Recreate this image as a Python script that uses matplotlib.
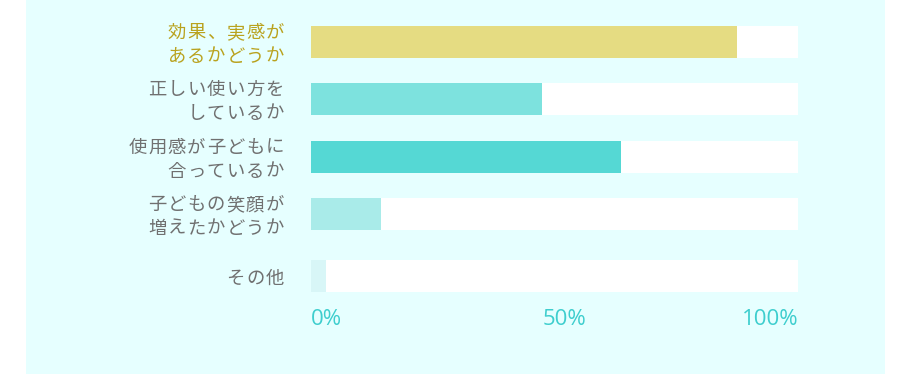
import matplotlib
matplotlib.use("Agg")
import matplotlib.pyplot as plt
from matplotlib.patches import Rectangle
import matplotlib.transforms as mtransforms

plt.rcParams['font.family'] = ['Noto Sans CJK JP', 'DejaVu Sans']

categories = ["効果、実感が\nあるかどうか", "正しい使い方を\nしているか", "使用感が子どもに\n合っているか",
              "子どもの笑顔が\n増えたかどうか", "その他"]
values = [87.5, 47.4, 63.7, 14.4, 3.1]
bar_colors = ["#E5DC82", "#7DE2DE", "#55D8D4", "#A9EBE9", "#D8F6F7"]
label_colors = ["#B9A21E", "#707070", "#707070", "#707070", "#707070"]
tick_values = [0, 50, 100]
tick_labels = ["0%", "50%", "100%"]

W, H = 910, 374
DPI = 100
fig = plt.figure(figsize=(W / DPI, H / DPI), dpi=DPI, facecolor="white")
fig.patches.append(Rectangle((26 / W, 0), (885 - 26) / W, 1, transform=fig.transFigure,
                             facecolor="#E6FFFF", edgecolor="none", zorder=-10))

spacing = 58.5
top = 42 - spacing / 2
ax = fig.add_axes([311 / W, 1 - (top + 5 * spacing) / H, 487 / W, 5 * spacing / H])
ax.set_facecolor("none")
n = len(categories)
ys = [0, 0.969, 1.961, 2.94, 4.0]
ax.barh(ys, [100] * n, height=32 / spacing, color="white", zorder=1)
ax.barh(ys, values, height=32 / spacing, color=bar_colors, zorder=2)
ax.set_xlim(0, 100)
ax.set_ylim(n - 0.5, -0.5)
for s in ax.spines.values():
    s.set_visible(False)
ax.set_yticks([])

# category labels with letter spacing
fs_pt = 13.2
fs_px = fs_pt * DPI / 72
adv = 19.6
line_gap = 24
right_px = -27
base = ax.get_yaxis_transform()  # x axes coords, y data
for y, text, col in zip(ys, categories, label_colors):
    lines = text.split("\n")
    nl = len(lines)
    for li, line in enumerate(lines):
        dy = 3 + (li - (nl - 1) / 2) * line_gap
        for k, ch in enumerate(reversed(line)):
            dx = right_px - fs_px / 2 - k * adv
            tr = base + mtransforms.ScaledTranslation(dx / DPI, -dy / DPI, fig.dpi_scale_trans)
            ax.text(0, y, ch, transform=tr, ha="center", va="center", fontsize=fs_pt,
                    color=col, clip_on=False)

ax.set_xticks(tick_values)
ax.set_xticklabels(tick_labels, fontsize=16, color="#3ECECE", family="Open Sans")
ax.tick_params(axis="x", length=0, pad=3)
aligns = ["left", "center", "right"]
for lbl, a in zip(ax.get_xticklabels(), aligns):
    lbl.set_ha(a)
shifts = [0, 10, 1]
for lbl, sh in zip(ax.get_xticklabels(), shifts):
    lbl.set_transform(lbl.get_transform() + mtransforms.ScaledTranslation(sh / DPI, 0, fig.dpi_scale_trans))

fig.savefig("out.png", dpi=DPI, facecolor=fig.get_facecolor())
